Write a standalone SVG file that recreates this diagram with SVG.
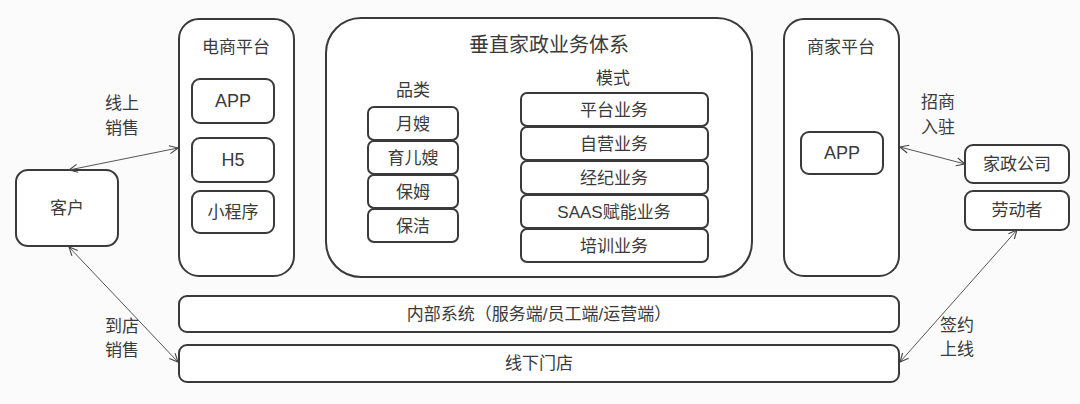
<svg xmlns="http://www.w3.org/2000/svg" width="1080" height="404" viewBox="0 0 1080 404">
<defs>
<marker id="arr" viewBox="0 0 10 10" refX="9.5" refY="5" markerWidth="10" markerHeight="10" markerUnits="userSpaceOnUse" orient="auto-start-reverse">
<path d="M1,1 L9.5,5 L1,9" fill="none" stroke="#444" stroke-width="1.1"/>
</marker>
<style>
.box{fill:#fff;stroke:#3a3a3a;stroke-width:2}
.t{font-family:"Liberation Sans","Noto Sans CJK SC",sans-serif;fill:#3a3a3a;text-anchor:middle;dominant-baseline:central}
.s16{font-size:16px}
.s17{font-size:17px}
.s18{font-size:18px}
.s20{font-size:20px}
.con{stroke:#555;stroke-width:1;fill:none;marker-start:url(#arr);marker-end:url(#arr)}
</style>
</defs>
<rect width="1080" height="404" fill="#fbfbfb"/>

<g id="ecommerce">
<rect class="box" x="179" y="19" width="115" height="257" rx="20"/>
<text class="t s17" x="236" y="47">电商平台</text>
<rect class="box" x="192" y="79" width="82" height="44" rx="8"/>
<text class="t s18" x="233" y="101">APP</text>
<rect class="box" x="192" y="138" width="82" height="44" rx="8"/>
<text class="t s18" x="233" y="160">H5</text>
<rect class="box" x="192" y="191" width="82" height="42" rx="8"/>
<text class="t s17" x="233" y="212">小程序</text>
</g>

<g id="customer">
<rect class="box" x="16" y="170" width="102" height="76" rx="12"/>
<text class="t s17" x="67" y="208">客户</text>
</g>

<g id="vertical">
<rect class="box" x="326" y="18" width="426" height="259" rx="35"/>
<text class="t s20" x="549" y="45">垂直家政业务体系</text>
<text class="t s17" x="413" y="90">品类</text>
<text class="t s17" x="613" y="78">模式</text>
</g>

<g id="category">
<rect class="box" x="368" y="107" width="90" height="33" rx="6"/>
<text class="t s17" x="413" y="124">月嫂</text>
<rect class="box" x="368" y="141" width="90" height="33" rx="6"/>
<text class="t s17" x="413" y="158">育儿嫂</text>
<rect class="box" x="368" y="175" width="90" height="33" rx="6"/>
<text class="t s17" x="413" y="192">保姆</text>
<rect class="box" x="368" y="209" width="90" height="33" rx="6"/>
<text class="t s17" x="413" y="226">保洁</text>
</g>

<g id="mode">
<rect class="box" x="521" y="93" width="187" height="33" rx="6"/>
<text class="t s17" x="614" y="110">平台业务</text>
<rect class="box" x="521" y="127" width="187" height="33" rx="6"/>
<text class="t s17" x="614" y="144">自营业务</text>
<rect class="box" x="521" y="161" width="187" height="33" rx="6"/>
<text class="t s17" x="614" y="178">经纪业务</text>
<rect class="box" x="521" y="195" width="187" height="33" rx="6"/>
<text class="t s17" x="614" y="212">SAAS赋能业务</text>
<rect class="box" x="521" y="229" width="187" height="33" rx="6"/>
<text class="t s17" x="614" y="246">培训业务</text>
</g>

<g id="merchant">
<rect class="box" x="784" y="19" width="115" height="257" rx="20"/>
<text class="t s17" x="841" y="47">商家平台</text>
<rect class="box" x="801" y="132" width="82" height="42" rx="8"/>
<text class="t s18" x="842" y="153">APP</text>
</g>

<g id="company">
<rect class="box" x="965" y="145" width="104" height="38" rx="8"/>
<text class="t s17" x="1017" y="164">家政公司</text>
</g>
<g id="worker">
<rect class="box" x="965" y="191" width="104" height="39" rx="8"/>
<text class="t s17" x="1017" y="210">劳动者</text>
</g>

<g id="internal">
<rect class="box" x="179" y="296" width="720" height="36" rx="8"/>
<text class="t s17" x="539" y="314">内部系统（服务端/员工端/运营端）</text>
</g>
<g id="store">
<rect class="box" x="179" y="345" width="720" height="37" rx="8"/>
<text class="t s17" x="539" y="363">线下门店</text>
</g>

<g id="connectors">
<line class="con" x1="69" y1="170" x2="178" y2="148"/>
<line class="con" x1="69" y1="247" x2="178" y2="362"/>
<line class="con" x1="900" y1="147" x2="965" y2="164"/>
<line class="con" x1="1017" y1="230" x2="900" y2="362"/>
</g>

<g id="labels">
<text class="t s17" x="122" y="103">线上</text>
<text class="t s17" x="122" y="128">销售</text>
<text class="t s17" x="122" y="326">到店</text>
<text class="t s17" x="122" y="350">销售</text>
<text class="t s17" x="938" y="102">招商</text>
<text class="t s17" x="938" y="127">入驻</text>
<text class="t s17" x="957" y="325">签约</text>
<text class="t s17" x="957" y="349">上线</text>
</g>
</svg>
